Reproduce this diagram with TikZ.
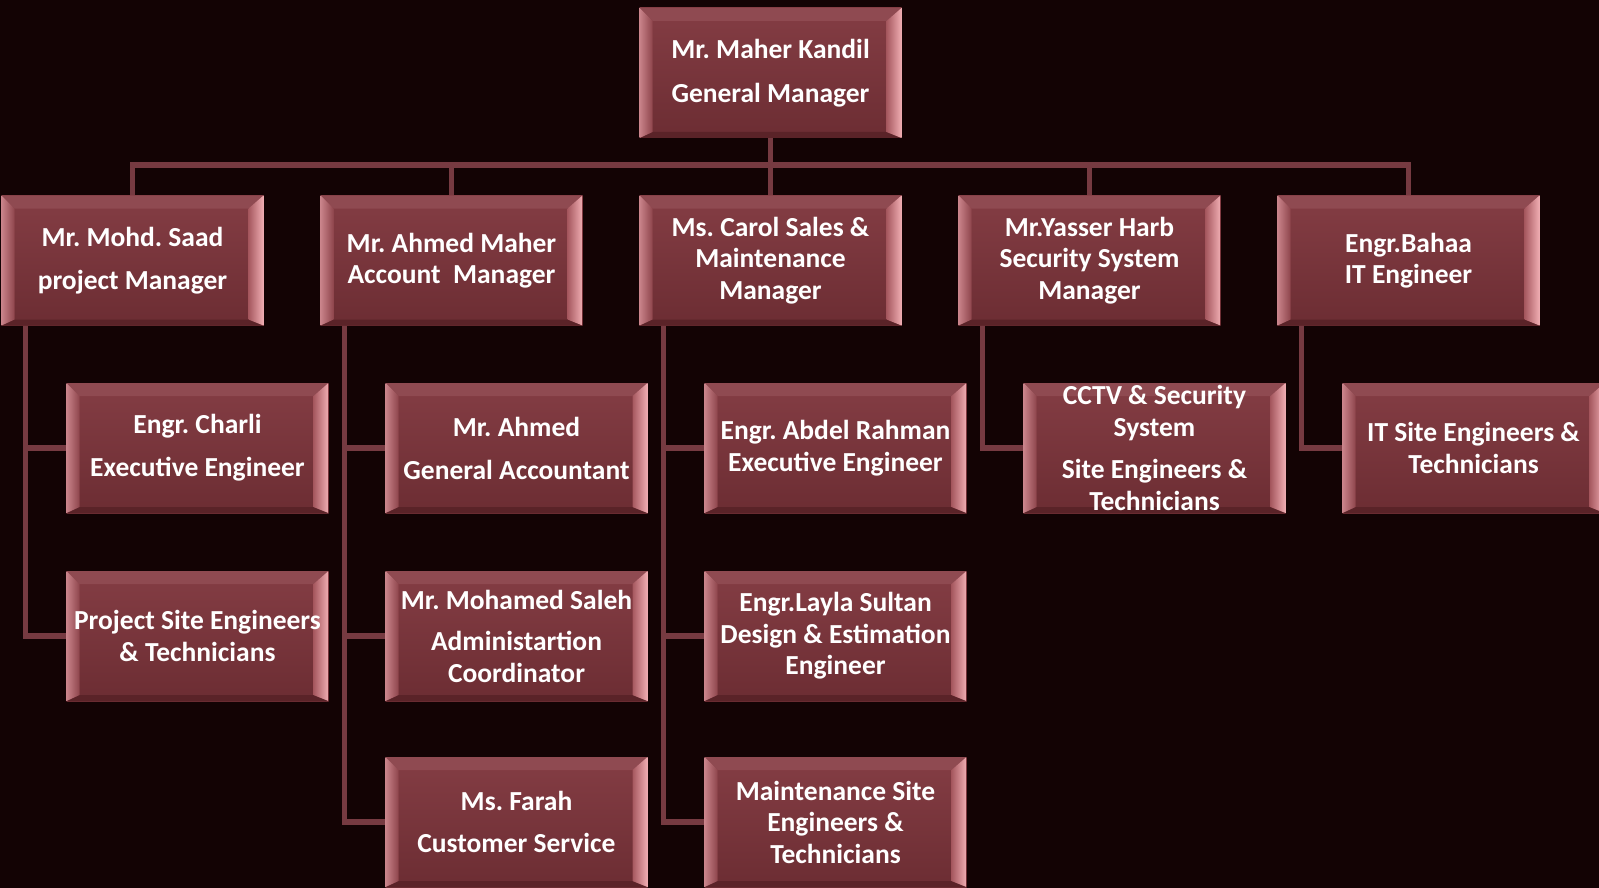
\documentclass[tikz,border=0pt]{standalone}
\usepackage{fontspec}
\setmainfont{Carlito}
\frenchspacing

\definecolor{bg}{HTML}{130304}
\definecolor{facetop}{HTML}{843D44}
\definecolor{facebot}{HTML}{6C2D33}
\definecolor{bevtop}{HTML}{8F4A51}
\definecolor{bevbot}{HTML}{5A2328}
\definecolor{bevlo}{HTML}{C9838A}
\definecolor{bevli}{HTML}{8E454C}
\definecolor{bevro}{HTML}{F0AEB3}
\definecolor{bevri}{HTML}{A6585F}
\definecolor{linkc}{HTML}{763A41}

\tikzset{
  orgbox/.style={minimum width=262pt, minimum height=130pt, inner sep=0pt,
    align=center, text=white, font=\bfseries\fontsize{27.5}{31.5}\selectfont,
    top color=facetop, bottom color=facebot,
    path picture={
      \path (path picture bounding box.north west) coordinate (bnw)
            (path picture bounding box.north east) coordinate (bne)
            (path picture bounding box.south east) coordinate (bse)
            (path picture bounding box.south west) coordinate (bsw)
            ([shift={(13pt,-13pt)}]bnw) coordinate (inw)
            ([shift={(-15pt,-13pt)}]bne) coordinate (ine)
            ([shift={(-15pt,6pt)}]bse) coordinate (ise)
            ([shift={(13pt,6pt)}]bsw) coordinate (isw);
      \fill[bevtop] (bnw) -- (bne) -- (ine) -- (inw) -- cycle;
      \fill[bevbot] (bsw) -- (bse) -- (ise) -- (isw) -- cycle;
      \shade[left color=bevlo, right color=bevli] (bsw) -- (bnw) -- (inw) -- (isw) -- cycle;
      \shade[left color=bevri, right color=bevro] (bne) -- (bse) -- (ise) -- (ine) -- cycle;
    }},
  link/.style={line width=5.5pt, linkc}
}

\begin{document}
\begin{tikzpicture}[x=1pt, y=-1pt]
  \useasboundingbox (0,0) rectangle (1599,888);
  \clip (0,0) rectangle (1599,888);
  \fill[bg] (0,0) rectangle (1599,888);

  % top
  \node[orgbox] (gm) at (770.5,73) {Mr. Maher Kandil\\[12pt]General Manager};

  % managers
  \node[orgbox] (saad)   at (132.5,260.5)  {Mr. Mohd. Saad\\[11pt]project Manager};
  \node[orgbox] (ahmedm) at (451.5,260.5)  {Mr. Ahmed Maher\\Account\ \ Manager};
  \node[orgbox] (carol)  at (770.5,260.5)  {Ms. Carol Sales \&\\Maintenance\\Manager};
  \node[orgbox] (yasser) at (1089.5,260.5) {Mr.Yasser Harb\\Security System\\Manager};
  \node[orgbox] (bahaa)  at (1408.5,260.5) {Engr.Bahaa\\IT Engineer};

  % staff
  \node[orgbox] (charli)   at (197.5,448)  {Engr. Charli\\[11.5pt]Executive Engineer};
  \node[orgbox] (projsite) at (197.5,636)  {Project Site Engineers\\\& Technicians};
  \node[orgbox] (ahmed)    at (516.5,448)  {Mr. Ahmed\\[11.5pt]General Accountant};
  \node[orgbox] (saleh)    at (516.5,636)  {Mr. Mohamed Saleh\\[10pt]Administartion\\Coordinator};
  \node[orgbox] (farah)    at (516.5,822)  {Ms. Farah\\[10pt]Customer Service};
  \node[orgbox] (abdel)    at (835.5,448)  {Engr. Abdel Rahman\\Executive Engineer};
  \node[orgbox] (layla)    at (835.5,636)  {Engr.Layla Sultan\\Design \& Estimation\\Engineer};
  \node[orgbox] (mainsite) at (835.5,822)  {Maintenance Site\\Engineers \&\\Technicians};
  \node[orgbox] (cctv)     at (1154.5,448) {CCTV \& Security\\System\\[11pt]Site Engineers \&\\Technicians};
  \node[orgbox] (itsite)   at (1473.5,448) {IT Site Engineers \&\\Technicians};

  % links from the top
  \foreach \m in {saad,ahmedm,carol,yasser,bahaa}
    \draw[link] (gm.south) -- ++(0,27) -| (\m.north);

  % links to the staff
  \draw[link] ([xshift=24pt]saad.south west) |- (charli.west);
  \draw[link] ([xshift=24pt]saad.south west) |- (projsite.west);
  \draw[link] ([xshift=24pt]ahmedm.south west) |- (ahmed.west);
  \draw[link] ([xshift=24pt]ahmedm.south west) |- (saleh.west);
  \draw[link] ([xshift=24pt]ahmedm.south west) |- (farah.west);
  \draw[link] ([xshift=24pt]carol.south west) |- (abdel.west);
  \draw[link] ([xshift=24pt]carol.south west) |- (layla.west);
  \draw[link] ([xshift=24pt]carol.south west) |- (mainsite.west);
  \draw[link] ([xshift=24pt]yasser.south west) |- (cctv.west);
  \draw[link] ([xshift=24pt]bahaa.south west) |- (itsite.west);
\end{tikzpicture}
\end{document}
